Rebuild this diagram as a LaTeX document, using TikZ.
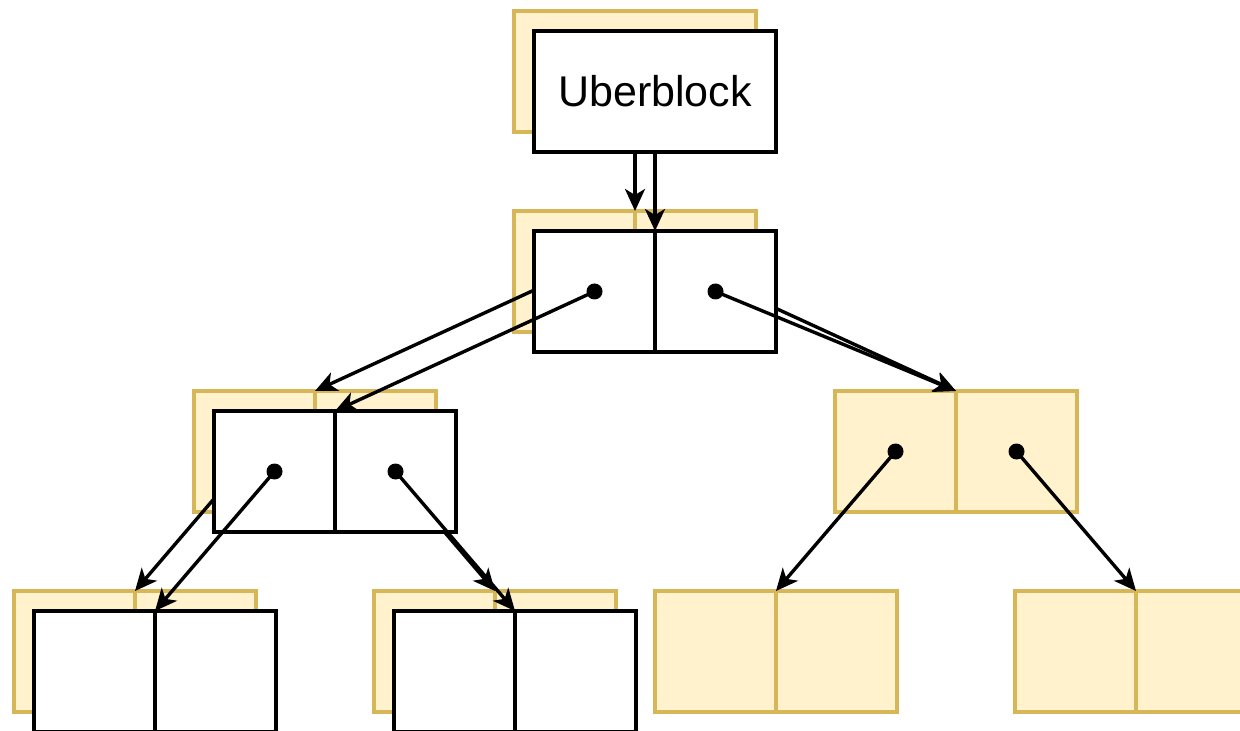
\documentclass[tikz,border=0pt]{standalone}
\usepackage{fontspec}
\setmainfont{Liberation Sans}
\usetikzlibrary{arrows.meta}
\definecolor{memfill}{HTML}{FFF2CC}
\definecolor{memline}{HTML}{D6B656}
\begin{document}
\begin{tikzpicture}[x=0.5pt,y=-0.5pt,
  cellbase/.style={rectangle, minimum width=60.5pt, minimum height=60.5pt,
    inner sep=0pt, outer sep=0pt, line width=1.7pt},
  oldcell/.style={cellbase, draw=memline, fill=memfill},
  newcell/.style={cellbase, draw=black, fill=white},
  ptr/.style={line width=1.7pt, -{Stealth[length=11pt,width=10pt,inset=3pt]}},
  dot/.style={circle, fill=black, inner sep=0pt, minimum size=8pt}]
\useasboundingbox (0,0) rectangle (1240,731);
\clip (0,0) rectangle (1240,731);

% ---- previous (on-disk) copies ----
\node[oldcell, minimum width=121pt] (ubB) at (635,71.5) {};
\node[oldcell] (l1Ba) at (574.5,271.5) {};
\node[oldcell] (l1Bb) at (695.5,271.5) {};
\node[oldcell] (l2Ba) at (254.5,451.5) {};
\node[oldcell] (l2Bb) at (375.5,451.5) {};
\node[oldcell] (l3aBa) at (74.5,651.5) {};
\node[oldcell] (l3aBb) at (195.5,651.5) {};
\node[oldcell] (l3bBa) at (434.5,651.5) {};
\node[oldcell] (l3bBb) at (555.5,651.5) {};
% unchanged blocks
\node[oldcell] (l2Ra) at (895.5,451.5) {};
\node[oldcell] (l2Rb) at (1016.5,451.5) {};
\node[oldcell] (l3ca) at (715.5,651.5) {};
\node[oldcell] (l3cb) at (836.5,651.5) {};
\node[oldcell] (l3da) at (1075.5,651.5) {};
\node[oldcell] (l3db) at (1196.5,651.5) {};

% pointers of the old tree
\draw[ptr] (ubB.south) -- (l1Ba.north east);
\draw[ptr] (l1Ba.center) node[dot]{} -- (l2Ba.north east);
\draw[ptr] (l1Bb.center) node[dot]{} -- (l2Ra.north east);
\draw[ptr] (l2Ba.center) node[dot]{} -- (l3aBa.north east);
\draw[ptr] (l2Bb.center) node[dot]{} -- (l3bBa.north east);

% ---- new copies ----
\node[newcell, minimum width=121pt, font=\fontsize{21.5pt}{26pt}\selectfont] (ubF) at (655,91.5) {Uberblock};
\node[newcell] (l1Fa) at (594.5,291.5) {};
\node[newcell] (l1Fb) at (715.5,291.5) {};
\node[newcell] (l2Fa) at (274.5,471.5) {};
\node[newcell] (l2Fb) at (395.5,471.5) {};
\node[newcell] (l3aFa) at (94.5,671.5) {};
\node[newcell] (l3aFb) at (215.5,671.5) {};
\node[newcell] (l3bFa) at (454.5,671.5) {};
\node[newcell] (l3bFb) at (575.5,671.5) {};

% pointers of the new tree
\draw[ptr] (ubF.south) -- (l1Fa.north east);
\draw[ptr] (l1Fa.center) node[dot]{} -- (l2Fa.north east);
\draw[ptr] (l1Fb.center) node[dot]{} -- (l2Ra.north east);
\draw[ptr] (l2Fa.center) node[dot]{} -- (l3aFa.north east);
\draw[ptr] (l2Fb.center) node[dot]{} -- (l3bFa.north east);
\draw[ptr] (l2Ra.center) node[dot]{} -- (l3ca.north east);
\draw[ptr] (l2Rb.center) node[dot]{} -- (l3da.north east);
\end{tikzpicture}
\end{document}
